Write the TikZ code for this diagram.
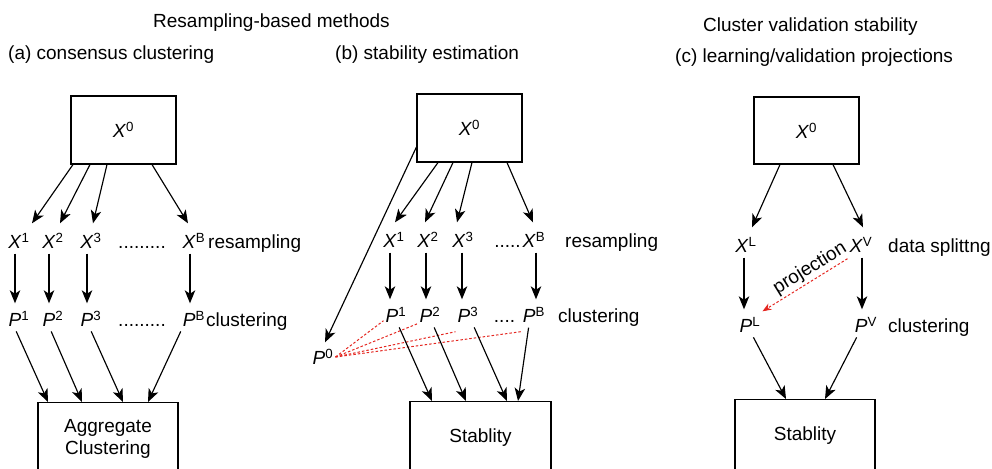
\documentclass[tikz,border=0pt]{standalone}
\usepackage{fontspec}
\setmainfont{Liberation Sans}
\usetikzlibrary{arrows.meta,positioning}
\definecolor{projred}{RGB}{228,38,32}
\newcommand{\vsup}[2]{\textit{#1}\textsuperscript{#2}}
\tikzstyle{arr} = [-{Stealth[length=13pt,width=10.5pt,inset=3.5pt]}, line width=1.15pt]
\tikzstyle{down} = [arr, shorten <=3pt, shorten >=6pt]
\tikzstyle{lbl} = [inner xsep=2pt, inner ysep=1pt, text height=16pt, text depth=1pt]
\tikzstyle{note} = [inner xsep=0pt, inner ysep=1pt, text height=16pt, text depth=1pt, anchor=west]
\tikzstyle{head} = [inner sep=0pt, anchor=west]
\tikzstyle{box} = [draw, line width=1.1pt, minimum width=105pt, minimum height=68pt, inner sep=0pt]
\tikzstyle{endbox} = [draw, line width=1.1pt, minimum height=72pt, anchor=north, align=center, inner sep=0pt]
\tikzstyle{proj} = [draw=projred, line width=1pt, dash pattern=on 2.5pt off 2pt]

\begin{document}
\begin{tikzpicture}[x=1pt, y=-1pt, font=\fontsize{19}{22}\selectfont]
  \useasboundingbox (0,0) rectangle (992,468);
  \clip (0,0) rectangle (992,468);

  \node[head] (ttlres) at (153,23) {Resampling-based methods};
  \node[head] (ttla) at (8,55) {(a) consensus clustering};
  \node[head] (ttlb) at (335,55) {(b) stability estimation};
  \node[head] (ttlval) at (703,27) {Cluster validation stability};
  \node[head] (ttlc) at (675,58) {(c) learning/validation projections};

  \node[box] (xa0) at (123.5,130) {\vsup{X}{0}};
  \node[lbl] (xa1) at (19,241) {\vsup{X}{1}};
  \node[lbl] (xa2) at (53,241) {\vsup{X}{2}};
  \node[lbl] (xa3) at (91,241) {\vsup{X}{3}};
  \node[lbl] (xadots) at (142,241) {.........};
  \node[lbl] (xaB) at (194,241) {\vsup{X}{B}};
  \node[note] (resa) at (208,241) {resampling};
  \node[lbl] (pa1) at (19,319) {\vsup{P}{1}};
  \node[lbl] (pa2) at (53,319) {\vsup{P}{2}};
  \node[lbl] (pa3) at (91,319) {\vsup{P}{3}};
  \node[lbl] (padots) at (142,319) {.........};
  \node[lbl] (paB) at (194,319) {\vsup{P}{B}};
  \node[note] (clua) at (206,319) {clustering};
  \node[endbox, minimum width=140pt] (agg) at (108,402) {Aggregate\\Clustering};

  \foreach \n/\s/\e in {1/-50.5/13,2/-33.5/7,3/-16.5/2,B/28.5/-6}
    \draw[arr] ([xshift=\s pt]xa0.south) -- ([xshift=\e pt, yshift=8pt]xa\n.north);
  \foreach \n in {1,2,3,B}
    \draw[down] ([xshift=-4pt]xa\n.south) -- ([xshift=-4pt]pa\n.north);
  \foreach \n/\s/\e in {1/-4/-60,2/-3/-26,3/-1/15,B/-12/40}
    \draw[arr, shorten <=3pt] ([xshift=\s pt]pa\n.south) -- ([xshift=\e pt]agg.north);

  \node[box] (xb0) at (469.5,128) {\vsup{X}{0}};
  \node[lbl] (xb1) at (394,240) {\vsup{X}{1}};
  \node[lbl] (xb2) at (428,240) {\vsup{X}{2}};
  \node[lbl] (xb3) at (463,240) {\vsup{X}{3}};
  \node[lbl] (xbdots) at (507.5,240) {.....};
  \node[lbl] (xbB) at (534,240) {\vsup{X}{B}};
  \node[note] (resb) at (565,240) {resampling};
  \node[lbl] (pb1) at (396,315) {\vsup{P}{1}};
  \node[lbl] (pb2) at (430,315) {\vsup{P}{2}};
  \node[lbl] (pb3) at (468,315) {\vsup{P}{3}};
  \node[lbl] (pbdots) at (504.5,315) {....};
  \node[lbl] (pbB) at (534,315) {\vsup{P}{B}};
  \node[note] (club) at (558,315) {clustering};
  \node[lbl] (p0) at (323,357) {\vsup{P}{0}};
  \node[endbox, minimum width=141pt] (stb) at (480.5,401) {Stablity};

  \foreach \n/\s/\e in {1/-31.5/1,2/-16.5/-3,3/2.5/-6,B/37.5/-1}
    \draw[arr] ([xshift=\s pt]xb0.south) -- ([xshift=\e pt, yshift=8pt]xb\n.north);
  \foreach \n/\s in {1/-4,2/-2,3/-1,B/2}
    \draw[down] ([xshift=\s pt]xb\n.south) -- ([xshift=\s pt]xb\n.south |- pb\n.north);
  \draw[arr] ([yshift=-19pt]xb0.west) -- ([xshift=2pt, yshift=5pt]p0.north);
  \foreach \n/\dy in {1/4,2/1,3/-7,B/-7}
    \draw[proj] (p0.east) -- ([yshift=\dy pt]pb\n.south west);
  \foreach \n/\s/\e in {1/2/-48.5,2/3/-14.5,3/5/26.5,B/-5/37.5}
    \draw[arr, shorten <=3pt] ([xshift=\s pt]pb\n.south) -- ([xshift=\e pt]stb.north);

  \node[box, minimum height=67pt] (xc0) at (806.5,130.5) {\vsup{X}{0}};
  \node[lbl] (xcL) at (746,245) {\vsup{X}{L}};
  \node[lbl] (xcV) at (861,245) {\vsup{X}{V}};
  \node[note] (splc) at (888,245) {data splittng};
  \node[lbl] (pcL) at (750,325) {\vsup{P}{L}};
  \node[lbl] (pcV) at (866,325) {\vsup{P}{V}};
  \node[note] (cluc) at (888,325) {clustering};
  \node[endbox, minimum width=140pt] (stc) at (805,399) {Stablity};

  \draw[arr] ([xshift=-26.5pt]xc0.south) -- ([xshift=6pt, yshift=8pt]xcL.north);
  \draw[arr] ([xshift=26.5pt]xc0.south) -- ([xshift=2pt, yshift=8pt]xcV.north);
  \draw[down] ([xshift=-2pt]xcL.south) -- ([xshift=-2pt]xcL.south |- pcL.north);
  \draw[down] ([xshift=1pt]xcV.south) -- ([xshift=1pt]xcV.south |- pcV.north);
  \draw[proj, -{Stealth[length=9pt,width=7pt]}] ([yshift=-4pt]xcV.south west)
    -- node[pos=0.37, sloped, above, text=black, inner sep=2pt] (projlbl) {projection} ([yshift=4pt]pcL.north east);
  \draw[arr, shorten <=3pt] ([xshift=2pt]pcL.south) -- ([xshift=-19pt]stc.north);
  \draw[arr, shorten <=3pt] ([xshift=-8pt]pcV.south) -- ([xshift=20pt]stc.north);
\end{tikzpicture}
\end{document}
